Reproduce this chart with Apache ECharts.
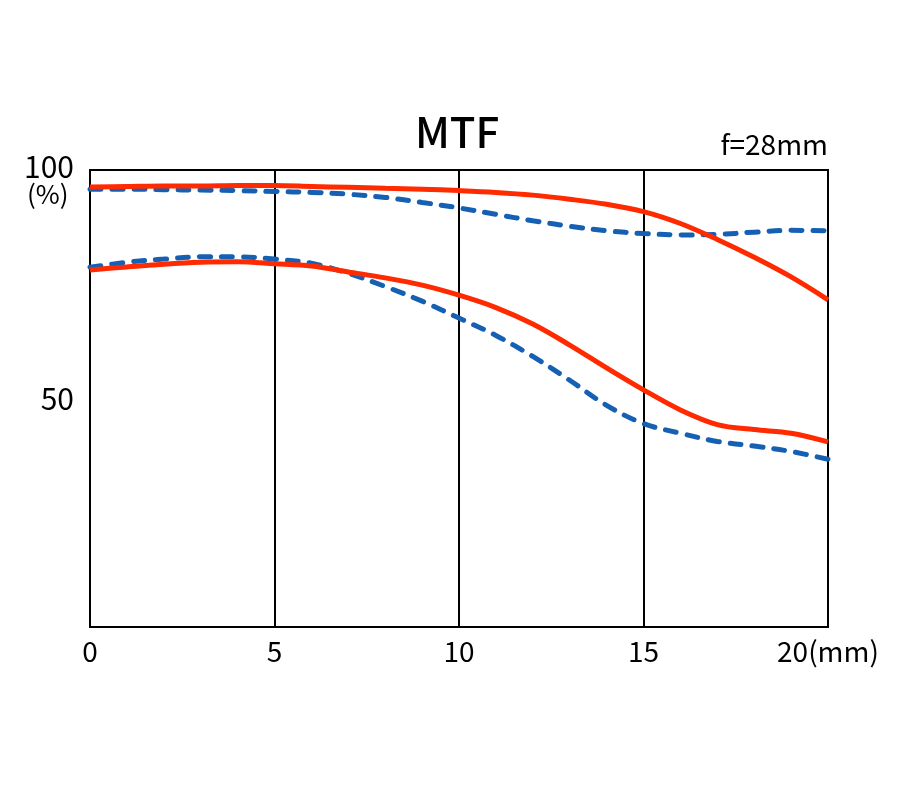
<!DOCTYPE html>
<html>
<head>
<meta charset="utf-8">
<title>MTF</title>
<script src="https://cdn.jsdelivr.net/npm/echarts@6/dist/echarts.min.js"></script>
<style>
  html, body { margin: 0; padding: 0; background: #fff; }
  #chart { width: 900px; height: 787px; }
</style>
</head>
<body>
<div id="chart"></div>
<script>
// 像高 (mm)
var positions = [0, 1, 2, 3, 4, 5, 6, 7, 8, 9, 10, 11, 12, 13, 14, 15, 16, 17, 18, 19, 20];
// 各曲线的 MTF 值 (%)
var redTop  = [96.3, 96.4, 96.5, 96.5, 96.6, 96.6, 96.4, 96.2, 96.0, 95.8, 95.5,
               95.1, 94.5, 93.6, 92.5, 90.9, 88.3, 84.8, 80.9, 76.6, 71.6];
var blueTop = [95.8, 95.8, 95.7, 95.6, 95.5, 95.3, 95.1, 94.7, 94.0, 92.9, 91.7,
               90.3, 88.9, 87.7, 86.7, 86.1, 85.8, 85.9, 86.4, 86.8, 86.7];
var redLow  = [78.1, 78.8, 79.4, 79.8, 79.9, 79.5, 79.0, 77.7, 76.4, 74.8, 72.6,
               69.9, 66.3, 61.7, 56.7, 51.9, 47.5, 44.3, 43.2, 42.4, 40.5];
var blueLow = [78.7, 79.8, 80.5, 81.0, 81.0, 80.5, 79.6, 77.4, 74.5, 71.3, 67.6,
               63.8, 59.2, 54.0, 48.5, 44.5, 42.4, 40.6, 39.6, 38.4, 36.7];
var xTicks = [0, 5, 10, 15, 20];
var yTicks = [50, 100];

var FONT = '"Noto Sans CJK JP", "Noto Sans", sans-serif';
var RED = '#ff2a00';
var BLUE = '#1660b4';

function pairs(vals) {
    return positions.map(function (x, i) { return [x, vals[i]]; });
}

function solid(name, vals) {
    return {
        name: name, type: 'line', data: pairs(vals), smooth: 0.35,
        symbol: 'none', lineStyle: { color: RED, width: 5 }, z: 3
    };
}
function dashed(name, vals) {
    return {
        name: name, type: 'line', data: pairs(vals), smooth: 0.35,
        symbol: 'none', z: 2,
        lineStyle: { color: BLUE, width: 5, type: [11, 11], cap: 'round' }
    };
}

var myChart = echarts.init(document.getElementById('chart'));

var option = {
    animation: false,
    backgroundColor: '#fff',
    title: {
        text: 'MTF', left: 410, top: 106,
        textStyle: { fontFamily: FONT, fontSize: 42, fontWeight: 500, color: '#000' }
    },
    grid: {
        left: 90, right: 72, top: 170, bottom: 160,
        show: true, borderColor: '#000', borderWidth: 2
    },
    xAxis: {
        type: 'value', min: 0, max: 20, interval: 5,
        axisLine: { show: false },
        axisTick: { show: false },
        splitLine: { show: true, lineStyle: { color: '#000', width: 2 } },
        axisLabel: {
            margin: 10, color: '#000', fontFamily: FONT, fontSize: 28,
            formatter: function (v) {
                if (xTicks.indexOf(v) < 0) return '';
                return v === 20 ? '20(mm)' : String(v);
            }
        }
    },
    yAxis: {
        type: 'value', min: 0, max: 100, interval: 50,
        axisLine: { show: false },
        axisTick: { show: false },
        splitLine: { show: false },
        axisLabel: {
            margin: 16, color: '#000', fontFamily: FONT, fontSize: 30,
            formatter: function (v) {
                if (v === 100) return '{top|100}';
                return yTicks.indexOf(v) >= 0 ? String(v) : '';
            },
            rich: {
                top: { fontFamily: FONT, fontSize: 30, color: '#000', padding: [0, 0, 6, 0] }
            }
        }
    },
    graphic: [
        {
            type: 'text', left: 27, top: 181,
            style: { text: '(%)', fill: '#000', font: '26px ' + FONT }
        },
        {
            type: 'text', right: 72, top: 130,
            style: { text: 'f=28mm', fill: '#000', font: '28px ' + FONT }
        }
    ],
    series: [
        dashed('blue-top', blueTop),
        dashed('blue-low', blueLow),
        solid('red-top', redTop),
        solid('red-low', redLow)
    ]
};

myChart.setOption(option);
</script>
</body>
</html>
